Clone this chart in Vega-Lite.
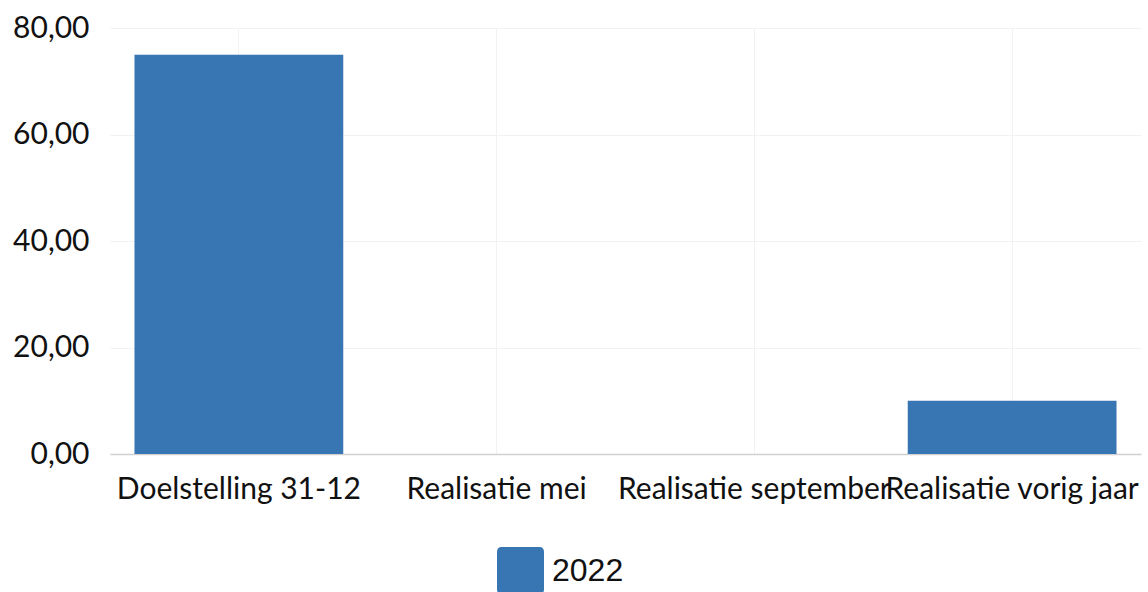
{
  "$schema": "https://vega.github.io/schema/vega-lite/v6.json",
  "width": 1031,
  "height": 426,
  "autosize": {"type": "none"},
  "padding": {"left": 110, "top": 28, "right": 7, "bottom": 138},
  "background": "white",
  "data": {
    "values": [
      {"categorie": "Doelstelling 31-12", "jaar": "2022", "waarde": 75},
      {"categorie": "Realisatie mei", "jaar": "2022", "waarde": 0},
      {"categorie": "Realisatie september", "jaar": "2022", "waarde": 0},
      {"categorie": "Realisatie vorig jaar", "jaar": "2022", "waarde": 10}
    ]
  },
  "config": {
    "view": {"stroke": null},
    "font": "Lato"
  },
  "mark": {"type": "bar"},
  "encoding": {
    "x": {
      "field": "categorie",
      "type": "nominal",
      "sort": null,
      "scale": {"paddingInner": 0.19, "paddingOuter": 0.095},
      "axis": {
        "title": null,
        "labelAngle": 0,
        "labelFont": "Lato",
        "labelFontSize": 30,
        "labelColor": "#111111",
        "labelPadding": 20,
        "labelOverlap": false,
        "labelLimit": 0,
        "ticks": false,
        "domainColor": "#d0d0d0",
        "domainWidth": 1.5,
        "grid": true,
        "gridColor": "#f2f2f2",
        "bandPosition": 0.5
      }
    },
    "y": {
      "field": "waarde",
      "type": "quantitative",
      "scale": {"domain": [0, 80], "nice": false},
      "axis": {
        "title": null,
        "values": [0, 20, 40, 60, 80],
        "labelExpr": "replace(format(datum.value, '.2f'), '.', ',')",
        "labelFont": "Lato",
        "labelFontSize": 30,
        "labelColor": "#111111",
        "labelPadding": 21,
        "ticks": false,
        "domain": false,
        "gridColor": "#f2f2f2"
      }
    },
    "color": {
      "field": "jaar",
      "type": "nominal",
      "scale": {"range": ["#3776b2"]},
      "legend": {
        "title": null,
        "orient": "none",
        "legendX": 387,
        "legendY": 519,
        "symbolType": "M -0.8 -1 H 0.8 Q 1 -1 1 -0.8 V 0.8 Q 1 1 0.8 1 H -0.8 Q -1 1 -1 0.8 V -0.8 Q -1 -1 -0.8 -1 Z",
        "symbolSize": 2209,
        "symbolStrokeWidth": 0,
        "symbolOpacity": 1,
        "labelFont": "Liberation Sans",
        "labelFontSize": 32,
        "labelColor": "#111111",
        "labelOffset": 8
      }
    }
  }
}
